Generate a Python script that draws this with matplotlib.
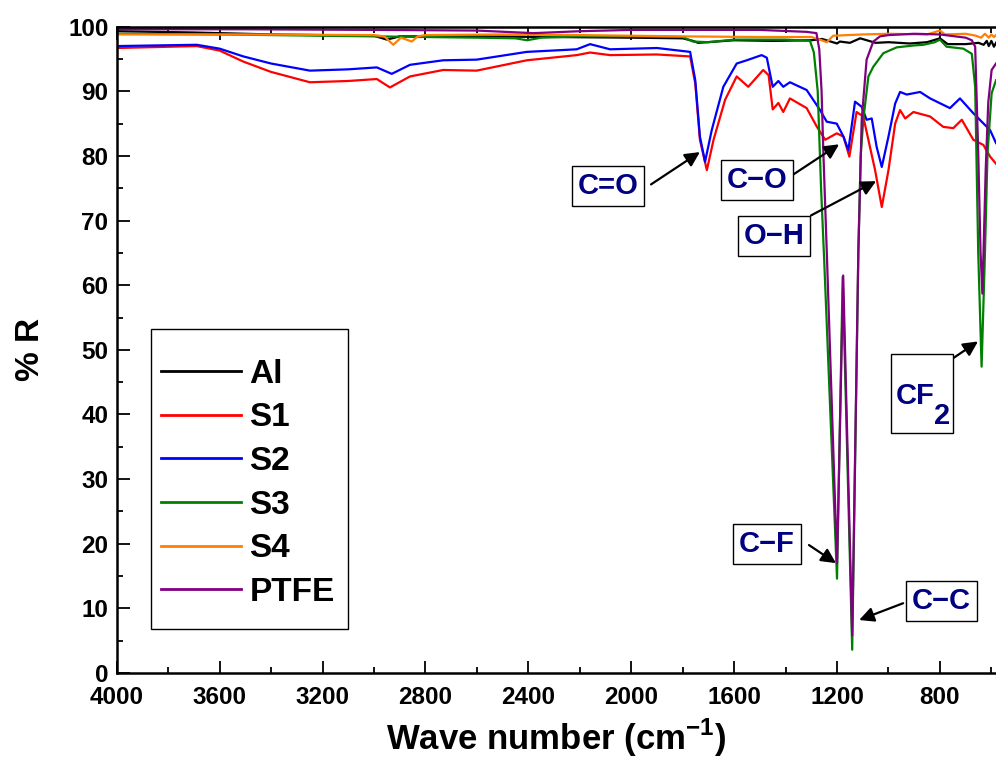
import matplotlib
matplotlib.use("Agg")
import matplotlib.pyplot as plt
from matplotlib.patches import Rectangle
from matplotlib.ticker import MultipleLocator

plt.rcParams['font.family'] = ['Liberation Sans', 'DejaVu Sans']
plt.rcParams['font.weight'] = 'bold'
plt.rcParams['mathtext.fontset'] = 'custom'
plt.rcParams['mathtext.rm'] = 'Liberation Sans:bold'
plt.rcParams['mathtext.bf'] = 'Liberation Sans:bold'
plt.rcParams['axes.linewidth'] = 1.8

# spectra, wavenumber (cm-1) and %R read per sample
al_w = [4000, 3700, 3400, 3000, 2950, 2900, 2600, 2300, 2000, 1800, 1760, 1740,
        1600, 1450, 1300, 1258, 1200, 1189, 1150, 1110, 1050, 1000, 917, 850,
        800, 770, 700, 650, 630, 618, 610, 600, 590, 582]
al_r = [99.3, 99.1, 98.8, 98.6, 98.0, 98.5, 98.5, 98.4, 98.3, 98.2, 97.8, 97.5,
        97.9, 97.8, 97.9, 98.1, 97.4, 97.7, 97.5, 98.2, 97.5, 97.6, 97.4, 97.6,
        98.2, 97.3, 97.3, 97.5, 97.2, 97.8, 97.0, 97.8, 96.9, 97.5]

s1_w = [4000, 3689, 3600, 3508, 3400, 3249, 3100, 2989, 2938, 2860, 2731, 2601,
        2406, 2212, 2160, 2082, 1900, 1771, 1751, 1733, 1706, 1680, 1635, 1590,
        1545, 1487, 1466, 1450, 1428, 1409, 1383, 1318, 1278, 1246, 1201, 1175,
        1152, 1124, 1098, 1072, 1052, 1026, 1000, 974, 955, 935, 903, 838, 787,
        748, 715, 670, 631, 605, 582]
s1_r = [96.7, 97.0, 96.3, 94.6, 93.0, 91.4, 91.6, 91.9, 90.6, 92.3, 93.3, 93.2,
        94.8, 95.6, 96.0, 95.6, 95.7, 95.4, 91.2, 82.5, 77.8, 82.5, 88.7, 92.3,
        90.7, 93.3, 92.5, 87.2, 88.2, 86.8, 88.9, 87.4, 84.5, 82.5, 83.5, 83.0,
        79.9, 86.8, 86.1, 81.4, 77.8, 72.1, 77.8, 85.0, 87.1, 85.8, 86.8, 86.1, 84.5,
        84.3, 85.6, 82.5, 81.7, 79.9, 78.8]

s2_w = [4000, 3689, 3600, 3508, 3400, 3249, 3100, 2989, 2931, 2860, 2731, 2601,
        2406, 2212, 2160, 2082, 1900, 1771, 1751, 1733, 1713, 1687, 1642, 1590,
        1551, 1493, 1473, 1450, 1428, 1409, 1383, 1318, 1266, 1240, 1201, 1175,
        1156, 1130, 1104, 1085, 1065, 1046, 1026, 1000, 974, 955, 929, 877, 838,
        761, 722, 670, 605, 582]
s2_r = [97.0, 97.2, 96.6, 95.4, 94.3, 93.2, 93.4, 93.7, 92.7, 94.1, 94.8, 94.9,
        96.1, 96.5, 97.3, 96.5, 96.7, 96.1, 91.7, 83.0, 79.1, 84.0, 90.7, 94.3,
        94.8, 95.6, 95.2, 90.7, 91.6, 90.7, 91.4, 90.2, 87.1, 85.3, 85.0, 83.0,
        80.9, 88.4, 87.6, 85.6, 85.8, 81.4, 78.3, 83.0, 88.1, 89.9, 89.5, 89.9, 88.9,
        87.4, 88.9, 86.6, 84.0, 82.0]

s3_w = [4000, 3600, 3200, 3000, 2600, 2450, 2405, 2350, 2200, 2000, 1800, 1760,
        1700, 1600, 1400, 1305, 1290, 1275, 1262, 1250, 1200, 1178, 1141, 1117,
        1108, 1098, 1078, 1059, 1020, 968, 900, 864, 820, 800, 774, 709, 676, 663,
        651, 638, 625, 615, 599, 582]
s3_r = [98.9, 98.8, 98.6, 98.5, 98.3, 98.2, 97.9, 98.3, 98.5, 98.5, 98.4, 97.7,
        97.6, 98.0, 98.0, 97.8, 96.0, 90.0, 75.0, 64.0, 14.6, 61.3, 3.6, 65.4,
        80.0, 85.6, 92.3, 93.8, 95.9, 96.8, 97.1, 97.2, 97.6, 98.0, 96.9, 96.6, 95.8,
        90.7, 64.9, 47.4, 64.9, 80.4, 89.7, 91.7]

s4_w = [4000, 3500, 3000, 2960, 2925, 2895, 2853, 2830, 2800, 2500, 2200, 2000,
        1800, 1500, 1300, 1266, 1240, 1215, 1100, 1000, 850, 800, 780, 700, 660,
        640, 625, 610, 600, 590, 582]
s4_r = [98.8, 98.8, 98.7, 98.5, 97.2, 98.3, 97.7, 98.5, 98.7, 98.8, 98.7, 98.6,
        98.5, 98.4, 98.4, 98.0, 97.6, 98.6, 98.8, 98.9, 98.8, 99.4, 98.8, 98.9, 98.6,
        98.3, 98.9, 98.3, 98.8, 98.4, 98.7]

ptfe_w = [4000, 3500, 3000, 2600, 2380, 2200, 2000, 1800, 1500, 1318, 1280, 1269,
          1260, 1253, 1240, 1200, 1176, 1141, 1117, 1104, 1085, 1059, 1033, 1000,
          900, 800, 740, 700, 676, 663, 651, 642, 635, 629, 622, 612, 599, 582]
ptfe_r = [99.6, 99.6, 99.5, 99.4, 99.0, 99.3, 99.5, 99.5, 99.5, 99.2, 99.0, 96.5,
          90.0, 80.4, 65.4, 17.0, 61.5, 5.8, 65.4, 85.6, 94.9, 97.7, 98.5, 98.7,
          98.9, 98.8, 98.5, 98.3, 97.9, 96.9, 80.4, 65.0, 58.7, 67.5, 77.9, 88.3, 93.3, 94.3]

names = ['Al', 'S1', 'S2', 'S3', 'S4', 'PTFE']
waves = [al_w, s1_w, s2_w, s3_w, s4_w, ptfe_w]
refl = [al_r, s1_r, s2_r, s3_r, s4_r, ptfe_r]
colors = ['black', '#ff0000', '#0000ff', '#008000', '#ff8000', '#800080']

# band labels: text, label centre, arrow tail, arrow head
bands = [
    ('C=O', (2090, 75.3), (1923, 75.6), (1733, 80.6)),
    ('C\u2212O', (1511, 76.3), (1375, 77.0), (1192, 81.8)),
    ('O\u2212H', (1445, 67.6), (1301, 70.8), (1048, 76.1)),
    ('C\u2212F', (1472, 20.0), (1309, 19.8), (1204, 17.0)),
    ('C\u2212C', (794, 11.1), (943, 10.8), (1114, 8.2)),
]
navy = '#000080'
arrow = dict(arrowstyle='-|>', color='black', lw=1.6, mutation_scale=22,
             shrinkA=0, shrinkB=0)

fig = plt.figure(figsize=(9.96, 7.58), dpi=100)
ax = fig.add_axes([0.1172, 0.1121, 0.8828, 0.8527])

for name, w, r, c in zip(names, waves, refl, colors):
    ax.plot(w, r, color=c, lw=1.6, label=name)

ax.set_xlim(4000, 582)
ax.set_ylim(0, 100)
ax.xaxis.set_major_locator(MultipleLocator(400))
ax.xaxis.set_minor_locator(MultipleLocator(200))
ax.yaxis.set_major_locator(MultipleLocator(10))
ax.yaxis.set_minor_locator(MultipleLocator(5))
ax.spines['right'].set_visible(False)
ax.tick_params(which='both', direction='in', width=1.3, top=True)
ax.tick_params(which='major', length=9)
ax.tick_params(which='minor', length=4.5)
ax.tick_params(axis='y', labelsize=17.5, pad=6)
ax.tick_params(axis='x', labelsize=17.5, pad=9)

ax.set_xlabel('Wave number (cm$^{\\mathbf{-1}}$)', fontsize=25,
              fontweight='bold', labelpad=6)
ax.set_ylabel('% R', fontsize=24, fontweight='bold', labelpad=16)

for txt, pos, tail, head in bands:
    ax.annotate('', xy=head, xytext=tail, arrowprops=arrow)
    ax.text(pos[0], pos[1], txt, color=navy, fontsize=21, fontweight='bold',
            ha='center', va='center',
            bbox=dict(boxstyle='square,pad=0.2', fc='white', ec='black', lw=1.0))

# CF2 label with a large offset subscript
ax.annotate('', xy=(652, 51.3), xytext=(749, 48.7), arrowprops=arrow)
ax.add_patch(Rectangle((990, 37.2), -241, 12.1, fc='white', ec='black',
                       lw=1.0, zorder=3))
ax.text(971, 41.6, 'CF', color=navy, fontsize=21, fontweight='bold',
        ha='left', va='baseline', zorder=4)
ax.text(822, 38.5, '2', color=navy, fontsize=21, fontweight='bold',
        ha='left', va='baseline', zorder=4)

# legend entries with a separately drawn frame
ax.add_patch(Rectangle((0.039, 0.068), 0.224, 0.464, transform=ax.transAxes,
                       fc='white', ec='black', lw=1.0, zorder=5))
leg = ax.legend(loc='upper left', bbox_to_anchor=(0.039, 0.502), borderaxespad=0,
                fontsize=24, handlelength=2.4, handletextpad=0.25,
                labelspacing=0.38, borderpad=0.3, frameon=False)
leg.set_zorder(6)
for t in leg.get_texts():
    t.set_fontweight('bold')
for h in leg.get_lines():
    h.set_linewidth(2.0)

fig.savefig('out.png', dpi=100)
